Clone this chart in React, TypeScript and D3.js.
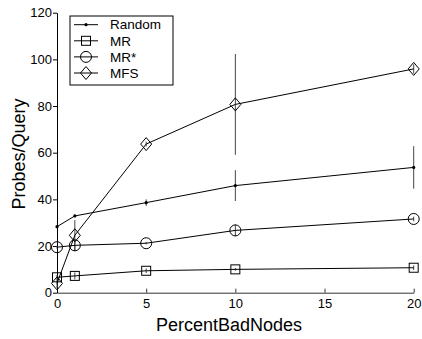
import React, { useEffect, useRef } from "react";
import * as d3 from "d3";

// percent of bad nodes (x values)
const percentBad = [0, 1, 5, 10, 20];

const randomMean = [28.3, 32.9, 38.6, 45.9, 53.7];
const randomErr = [0.5, 0.5, 1.4, 6.6, 9.1];

const mrMean = [6.6, 7.2, 9.4, 10.0, 10.7];
const mrErr = [1, 1.5, 1, 0.6, 1];

const mrStarMean = [19.5, 20.3, 21.2, 26.7, 31.6];
const mrStarErr = [0.6, 2.5, 0.5, 2.5, 1];

const mfsMean = [4, 24.6, 63.7, 80.7, 95.9];
const mfsErr = [2, 6.5, 1, 21.6, 2];

const seriesNames = ["Random", "MR", "MR*", "MFS"];
const markerTypes = ["dot", "square", "circle", "diamond"];

const xTicks = [0, 5, 10, 15, 20];
const yTicks = [0, 20, 40, 60, 80, 100, 120];

export default function App() {
  const svgRef = useRef<SVGSVGElement>(null);

  useEffect(() => {
    const width = 422;
    const height = 339;
    const marginLeft = 57;
    const marginRight = 8;
    const marginTop = 12.7;
    const marginBottom = 46.3;
    const font = "'Liberation Sans', Arial, Helvetica, sans-serif";

    const svg = d3.select(svgRef.current);
    svg.selectAll("*").remove();
    svg
      .attr("width", width)
      .attr("height", height)
      .attr("viewBox", [0, 0, width, height])
      .style("font-family", font);

    const x = d3
      .scaleLinear()
      .domain([0, 20])
      .range([marginLeft, width - marginRight - 0.3]);
    const y = d3
      .scaleLinear()
      .domain([0, 120])
      .range([height - marginBottom, marginTop]);

    const series = [
      { name: seriesNames[0], marker: markerTypes[0], mean: randomMean, err: randomErr },
      { name: seriesNames[1], marker: markerTypes[1], mean: mrMean, err: mrErr },
      { name: seriesNames[2], marker: markerTypes[2], mean: mrStarMean, err: mrStarErr },
      { name: seriesNames[3], marker: markerTypes[3], mean: mfsMean, err: mfsErr },
    ];

    const drawMarker = (g, type, cx, cy) => {
      if (type === "dot") {
        g.append("circle").attr("cx", cx).attr("cy", cy).attr("r", 1.6).attr("fill", "#000");
      } else if (type === "square") {
        g.append("rect")
          .attr("x", cx - 4.5)
          .attr("y", cy - 4.5)
          .attr("width", 9)
          .attr("height", 9)
          .attr("fill", "none")
          .attr("stroke", "#000");
      } else if (type === "circle") {
        g.append("circle")
          .attr("cx", cx)
          .attr("cy", cy)
          .attr("r", 5.5)
          .attr("fill", "none")
          .attr("stroke", "#000");
      } else {
        g.append("path")
          .attr("d", `M${cx},${cy - 6.5}L${cx + 5.5},${cy}L${cx},${cy + 6.5}L${cx - 5.5},${cy}Z`)
          .attr("fill", "none")
          .attr("stroke", "#000");
      }
    };

    // axes
    const xAxis = svg
      .append("g")
      .attr("transform", `translate(0,${y(0)})`)
      .call(d3.axisBottom(x).tickValues(xTicks).tickSizeInner(-4).tickSizeOuter(0).tickPadding(6));
    xAxis.select(".domain").attr("stroke", "#333");
    xAxis.selectAll("line").attr("stroke", "#333");
    xAxis.selectAll("text").attr("font-size", 13).attr("font-family", font).attr("fill", "#000");

    const yAxis = svg
      .append("g")
      .attr("transform", `translate(${marginLeft},0)`)
      .call(d3.axisLeft(y).tickValues(yTicks).tickSizeInner(4).tickSizeOuter(0).tickPadding(1));
    yAxis.selectAll("text").attr("font-size", 13).attr("font-family", font).attr("fill", "#000");

    // error bars
    series.forEach((s) => {
      svg
        .append("g")
        .selectAll("line")
        .data(percentBad)
        .join("line")
        .attr("x1", (d) => x(d))
        .attr("x2", (d) => x(d))
        .attr("y1", (d, i) => y(s.mean[i] - s.err[i]))
        .attr("y2", (d, i) => y(s.mean[i] + s.err[i]))
        .attr("stroke", "#444")
        .attr("stroke-width", 1);
    });

    const line = d3
      .line<number>()
      .x((d, i) => x(percentBad[i]))
      .y((d) => y(d));

    series.forEach((s) => {
      const g = svg.append("g");
      g.append("path")
        .attr("d", line(s.mean))
        .attr("fill", "none")
        .attr("stroke", "#000")
        .attr("stroke-width", 1);
      s.mean.forEach((v, i) => drawMarker(g, s.marker, x(percentBad[i]), y(v)));
    });

    // legend
    const legend = svg.append("g");
    legend
      .append("rect")
      .attr("x", 70)
      .attr("y", 16)
      .attr("width", 103)
      .attr("height", 69)
      .attr("fill", "#fff")
      .attr("stroke", "#000");
    series.forEach((s, i) => {
      const ly = 24.7 + i * 16.1;
      const row = legend.append("g");
      row.append("line").attr("x1", 74).attr("x2", 98).attr("y1", ly).attr("y2", ly).attr("stroke", "#000");
      drawMarker(row, s.marker, 86, ly);
      row.append("text")
        .attr("x", 110)
        .attr("y", ly)
        .attr("dy", "0.35em")
        .attr("font-size", 13.5)
        .text(s.name);
    });

    // axis titles
    svg
      .append("text")
      .attr("x", 229)
      .attr("y", 331)
      .attr("text-anchor", "middle")
      .attr("font-size", 18)
      .text("PercentBadNodes");
    svg
      .append("text")
      .attr("transform", `translate(25,154) rotate(-90)`)
      .attr("text-anchor", "middle")
      .attr("font-size", 18)
      .text("Probes/Query");
  }, []);

  return (
    <div style={{ position: "absolute", left: 0, top: 0 }}>
      <svg ref={svgRef}></svg>
    </div>
  );
}
